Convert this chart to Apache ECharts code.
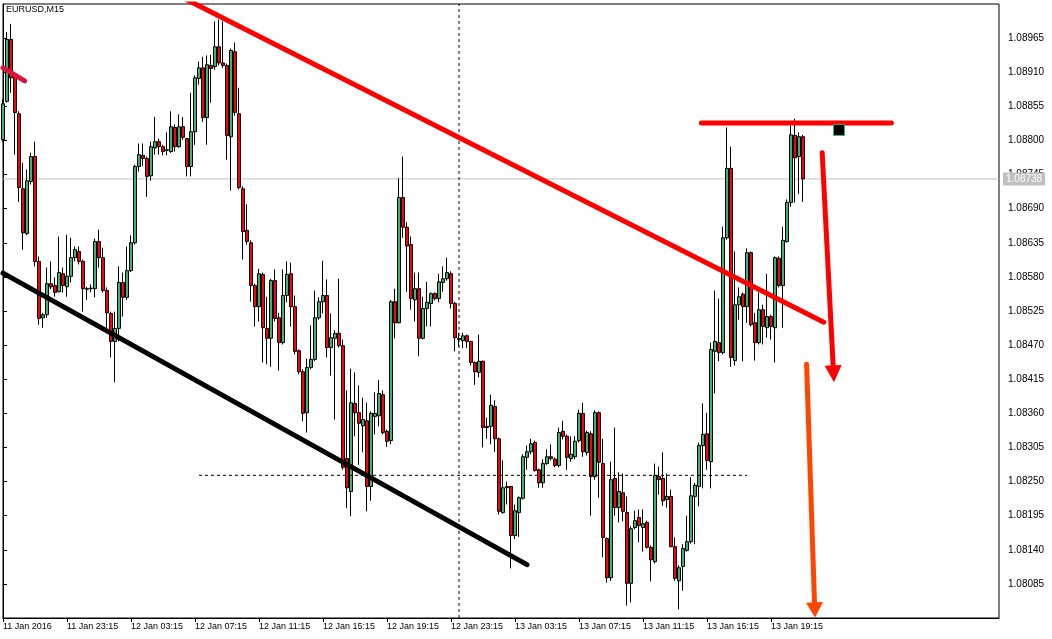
<!DOCTYPE html>
<html><head><meta charset="utf-8">
<script src="https://cdn.jsdelivr.net/npm/echarts@6/dist/echarts.min.js"></script>
<style>html,body{margin:0;padding:0;background:#fff}#chart{width:1052px;height:639px}</style>
</head><body><div id="chart"></div>
<script>
// ---- data ----
const title = 'EURUSD,M15';
const tickLabels = ['11 Jan 2016','11 Jan 23:15','12 Jan 03:15','12 Jan 07:15','12 Jan 11:15','12 Jan 15:15','12 Jan 19:15','12 Jan 23:15','13 Jan 03:15','13 Jan 07:15','13 Jan 11:15','13 Jan 15:15','13 Jan 19:15'];
const open = [1.08801,1.08863,1.08963,1.08903,1.08843,1.08722,1.08650,1.08734,1.08774,1.08605,
1.08514,1.08519,1.08569,1.08566,1.08556,1.08585,1.08564,1.08581,1.08611,1.08621,
1.08605,1.08561,1.08561,1.08561,1.08637,1.08611,1.08558,1.08521,1.08476,1.08497,
1.08571,1.08547,1.08590,1.08635,1.08758,1.08776,1.08771,1.08743,1.08788,1.08798,
1.08790,1.08784,1.08782,1.08821,1.08790,1.08822,1.08803,1.08758,1.08814,1.08900,
1.08917,1.08837,1.08921,1.08919,1.08951,1.08925,1.08921,1.08806,1.08943,1.08843,
1.08722,1.08655,1.08635,1.08566,1.08532,1.08584,1.08497,1.08481,1.08574,1.08514,
1.08474,1.08550,1.08585,1.08532,1.08461,1.08427,1.08361,1.08434,1.08447,1.08514,
1.08540,1.08550,1.08466,1.08481,1.08489,1.08469,1.08287,1.08234,1.08376,1.08361,
1.08340,1.08348,1.08242,1.08355,1.08356,1.08390,1.08331,1.08316,1.08540,1.08506,
1.08708,1.08660,1.08632,1.08543,1.08561,1.08481,1.08529,1.08537,1.08553,1.08545,
1.08571,1.08577,1.08585,1.08537,1.08481,1.08477,1.08485,1.08476,1.08442,1.08426,
1.08444,1.08337,1.08339,1.08371,1.08319,1.08200,1.08242,1.08242,1.08163,1.08200,
1.08223,1.08289,1.08298,1.08313,1.08269,1.08248,1.08279,1.08290,1.08286,1.08276,
1.08331,1.08323,1.08287,1.08290,1.08316,1.08360,1.08297,1.08327,1.08258,1.08361,
1.08279,1.08158,1.08095,1.08255,1.08208,1.08232,1.08200,1.08086,1.08176,1.08192,
1.08176,1.08184,1.08144,1.08121,1.08258,1.08255,1.08221,1.08226,1.08145,1.08090,
1.08113,1.08139,1.08153,1.08226,1.08242,1.08308,1.08327,1.08282,1.08460,1.08474,
1.08458,1.08643,1.08755,1.08445,1.08535,1.08552,1.08532,1.08619,1.08506,1.08474,
1.08527,1.08498,1.08516,1.08498,1.08610,1.08566,1.08637,1.08700,1.08808,1.08774,
1.08806];
const close = [1.08859,1.08963,1.08901,1.08845,1.08724,1.08651,1.08735,1.08774,1.08605,1.08513,
1.08519,1.08569,1.08564,1.08555,1.08587,1.08566,1.08581,1.08611,1.08624,1.08605,
1.08561,1.08560,1.08562,1.08637,1.08611,1.08558,1.08522,1.08476,1.08497,1.08571,
1.08547,1.08590,1.08635,1.08758,1.08777,1.08771,1.08742,1.08790,1.08798,1.08790,
1.08782,1.08785,1.08822,1.08790,1.08822,1.08805,1.08758,1.08814,1.08901,1.08917,
1.08837,1.08922,1.08916,1.08951,1.08925,1.08921,1.08808,1.08945,1.08845,1.08724,
1.08653,1.08637,1.08566,1.08532,1.08585,1.08498,1.08481,1.08574,1.08513,1.08474,
1.08550,1.08584,1.08532,1.08460,1.08427,1.08360,1.08434,1.08447,1.08514,1.08540,
1.08550,1.08466,1.08482,1.08489,1.08469,1.08273,1.08240,1.08377,1.08361,1.08344,
1.08350,1.08242,1.08360,1.08360,1.08392,1.08329,1.08315,1.08540,1.08506,1.08708,
1.08660,1.08630,1.08545,1.08561,1.08481,1.08529,1.08539,1.08553,1.08545,1.08572,
1.08577,1.08587,1.08537,1.08482,1.08479,1.08485,1.08476,1.08442,1.08427,1.08444,
1.08337,1.08339,1.08373,1.08319,1.08202,1.08240,1.08240,1.08163,1.08203,1.08224,
1.08290,1.08298,1.08311,1.08268,1.08248,1.08279,1.08290,1.08287,1.08276,1.08329,
1.08323,1.08289,1.08294,1.08315,1.08360,1.08298,1.08329,1.08258,1.08361,1.08281,
1.08160,1.08095,1.08253,1.08208,1.08234,1.08202,1.08086,1.08174,1.08187,1.08179,
1.08182,1.08144,1.08124,1.08260,1.08253,1.08219,1.08226,1.08145,1.08094,1.08111,
1.08142,1.08153,1.08227,1.08244,1.08308,1.08326,1.08284,1.08463,1.08476,1.08458,
1.08643,1.08755,1.08450,1.08535,1.08548,1.08532,1.08619,1.08503,1.08474,1.08527,
1.08500,1.08516,1.08500,1.08611,1.08566,1.08639,1.08700,1.08809,1.08772,1.08806,
1.08738];
const high = [1.08866,1.08975,1.08988,1.08906,1.08847,1.08764,1.08753,1.08780,1.08798,1.08613,
1.08522,1.08595,1.08605,1.08579,1.08645,1.08595,1.08648,1.08643,1.08629,1.08629,
1.08608,1.08564,1.08568,1.08642,1.08656,1.08627,1.08563,1.08524,1.08524,1.08597,
1.08587,1.08629,1.08647,1.08761,1.08795,1.08795,1.08774,1.08798,1.08838,1.08803,
1.08793,1.08813,1.08847,1.08826,1.08842,1.08838,1.08804,1.08877,1.08905,1.08927,
1.08935,1.08937,1.08938,1.08992,1.08995,1.08992,1.08924,1.08948,1.08958,1.08885,
1.08726,1.08697,1.08639,1.08569,1.08593,1.08587,1.08548,1.08577,1.08592,1.08522,
1.08592,1.08605,1.08603,1.08550,1.08463,1.08431,1.08448,1.08502,1.08558,1.08547,
1.08606,1.08576,1.08521,1.08494,1.08577,1.08479,1.08397,1.08432,1.08426,1.08405,
1.08385,1.08377,1.08363,1.08394,1.08414,1.08397,1.08334,1.08543,1.08561,1.08739,
1.08774,1.08668,1.08645,1.08587,1.08587,1.08548,1.08572,1.08555,1.08555,1.08585,
1.08597,1.08611,1.08589,1.08540,1.08490,1.08490,1.08487,1.08477,1.08444,1.08487,
1.08445,1.08353,1.08390,1.08381,1.08321,1.08284,1.08250,1.08243,1.08213,1.08226,
1.08294,1.08308,1.08319,1.08316,1.08271,1.08286,1.08302,1.08310,1.08289,1.08337,
1.08348,1.08326,1.08323,1.08323,1.08366,1.08377,1.08332,1.08331,1.08365,1.08363,
1.08319,1.08160,1.08282,1.08337,1.08265,1.08263,1.08226,1.08178,1.08203,1.08205,
1.08205,1.08187,1.08147,1.08279,1.08274,1.08297,1.08263,1.08237,1.08160,1.08115,
1.08149,1.08195,1.08257,1.08248,1.08313,1.08376,1.08361,1.08474,1.08558,1.08545,
1.08661,1.08821,1.08790,1.08621,1.08563,1.08555,1.08626,1.08621,1.08522,1.08555,
1.08535,1.08585,1.08519,1.08613,1.08613,1.08661,1.08705,1.08824,1.08835,1.08813,
1.08809];
const low = [1.08798,1.08861,1.08877,1.08777,1.08701,1.08624,1.08647,1.08729,1.08597,1.08503,
1.08498,1.08514,1.08560,1.08548,1.08555,1.08555,1.08548,1.08571,1.08605,1.08600,
1.08524,1.08543,1.08555,1.08547,1.08595,1.08555,1.08498,1.08450,1.08410,1.08476,
1.08516,1.08543,1.08588,1.08632,1.08750,1.08759,1.08709,1.08735,1.08777,1.08777,
1.08776,1.08776,1.08780,1.08782,1.08788,1.08801,1.08742,1.08742,1.08793,1.08890,
1.08830,1.08793,1.08861,1.08914,1.08921,1.08917,1.08769,1.08719,1.08840,1.08721,
1.08608,1.08632,1.08540,1.08500,1.08508,1.08442,1.08439,1.08435,1.08508,1.08429,
1.08471,1.08539,1.08500,1.08455,1.08423,1.08347,1.08329,1.08431,1.08444,1.08511,
1.08521,1.08450,1.08421,1.08350,1.08466,1.08269,1.08207,1.08194,1.08323,1.08277,
1.08297,1.08202,1.08219,1.08326,1.08339,1.08326,1.08306,1.08310,1.08481,1.08505,
1.08643,1.08556,1.08527,1.08508,1.08452,1.08479,1.08500,1.08500,1.08542,1.08539,
1.08556,1.08574,1.08529,1.08460,1.08468,1.08465,1.08465,1.08437,1.08406,1.08418,
1.08305,1.08319,1.08310,1.08298,1.08197,1.08198,1.08213,1.08110,1.08157,1.08161,
1.08221,1.08269,1.08294,1.08266,1.08240,1.08240,1.08277,1.08284,1.08273,1.08273,
1.08318,1.08269,1.08282,1.08286,1.08313,1.08290,1.08292,1.08195,1.08253,1.08224,
1.08128,1.08087,1.08090,1.08195,1.08184,1.08186,1.08050,1.08055,1.08173,1.08152,
1.08137,1.08142,1.08089,1.08118,1.08229,1.08211,1.08208,1.08144,1.08090,1.08044,
1.08074,1.08137,1.08150,1.08149,1.08210,1.08239,1.08269,1.08239,1.08392,1.08444,
1.08455,1.08640,1.08435,1.08437,1.08511,1.08444,1.08506,1.08500,1.08445,1.08471,
1.08471,1.08482,1.08479,1.08442,1.08563,1.08498,1.08635,1.08693,1.08700,1.08714,
1.08701];
const bidPrice = 1.08738;
// drawn objects, in [bar index, price]
const redTrend = [[45, 1.09030], [205.2, 1.08507]];
const blackTrend = [[0, 1.08586], [131, 1.08116]];
const crimsonLine = [[0, 1.08917], [5.4, 1.08896]];
const redLevel = [[174.6, 1.08828], [222.1, 1.08828]];
const squareMarker = [[209, 1.08817]];
const redArrow = [[204.8, 1.08780, 207.75, 1.08410]];
const orangeArrow = [[200.9, 1.08439, 203.0, 1.08031]];
const crossBar = 114.01;
const crossLevel = [[49, 1.08260], [186, 1.08260]];

// ---- build ----
const totalSlots = 250;
const months = ['Jan'];
const categories = [];
const t0 = Date.UTC(2016, 0, 11, 19, 15);
for (let i = 0; i < totalSlots; i++) {
  const d = new Date(t0 + i * 15 * 60000);
  const hh = String(d.getUTCHours()).padStart(2, '0');
  const mm = String(d.getUTCMinutes()).padStart(2, '0');
  categories.push(d.getUTCDate() + ' ' + months[d.getUTCMonth()] + ' ' + hh + ':' + mm);
}
const candleData = open.map((o, i) => [o, close[i], low[i], high[i]]);
const bidLine = [[0, bidPrice], [totalSlots - 1, bidPrice]];
const crossV = [[crossBar, 1.0803], [crossBar, 1.0902]];
const showTick = (idx) => idx % 16 === 0 && idx / 16 < tickLabels.length;
const FONT = 'Liberation Sans';

function arrowRenderer(color, shaftW, headLen, headHalf) {
  return function (params, api) {
    const p1 = api.coord([api.value(0), api.value(1)]);
    const p2 = api.coord([api.value(2), api.value(3)]);
    const dx = p2[0] - p1[0], dy = p2[1] - p1[1];
    const len = Math.hypot(dx, dy);
    const ux = dx / len, uy = dy / len;
    const bx = p2[0] - ux * headLen, by = p2[1] - uy * headLen;
    return {
      type: 'group',
      children: [
        { type: 'line', shape: { x1: p1[0], y1: p1[1], x2: bx, y2: by },
          style: { stroke: color, lineWidth: shaftW, lineCap: 'round' } },
        { type: 'polygon', shape: { points: [[p2[0], p2[1]], [bx - uy * headHalf, by + ux * headHalf], [bx + uy * headHalf, by - ux * headHalf]] },
          style: { fill: color } }
      ]
    };
  };
}
const lineSeries = (data, color, width, z, extra) => Object.assign({
  type: 'line', xAxisIndex: 1, yAxisIndex: 0, data: data, showSymbol: false, symbol: 'none',
  lineStyle: { color: color, width: width, cap: 'round' }, z: z, silent: true
}, extra || {});

const chart = echarts.init(document.getElementById('chart'), null, { renderer: 'canvas' });
chart.setOption({
  animation: false,
  backgroundColor: '#ffffff',
  title: { text: title, left: 6, top: 5, padding: 0,
    textStyle: { fontFamily: FONT, fontSize: 9, fontWeight: 'normal', color: '#000' } },
  grid: { left: 2, right: 53, top: 4, bottom: 21, show: true, borderColor: '#000', borderWidth: 1, backgroundColor: 'transparent' },
  xAxis: [{
    type: 'category', data: categories, boundaryGap: false, position: 'bottom',
    axisLine: { show: true, lineStyle: { color: '#000', width: 1 } },
    axisTick: { show: true, interval: (i) => showTick(i), length: 4, lineStyle: { color: '#000' } },
    axisLabel: { show: true, interval: (i) => showTick(i), formatter: (v, i) => tickLabels[i / 16] || '',
      align: 'left', margin: 4, fontFamily: FONT, fontSize: 9, color: '#000' },
    splitLine: { show: false }
  }, {
    type: 'value', min: 0, max: totalSlots - 1, show: false
  }],
  yAxis: [{
    type: 'value', position: 'right', min: 1.0803, max: 1.0902, interval: 0.00055,
    axisLine: { show: true, lineStyle: { color: '#000', width: 1 } },
    axisTick: { show: true, length: 4, lineStyle: { color: '#000' } },
    axisLabel: { show: true, margin: 9, fontFamily: FONT, fontSize: 10, color: '#000',
      showMinLabel: false, showMaxLabel: false, formatter: (v) => v.toFixed(5) },
    splitLine: { show: false }
  }],
  series: [
    lineSeries(bidLine, '#c0c0c0', 1, 1, {
      lineStyle: { color: '#c0c0c0', width: 1 },
      endLabel: { show: true, formatter: () => bidPrice.toFixed(5), distance: 4,
        backgroundColor: '#c0c0c0', color: '#ffffff', padding: [2, 3, 1, 3], fontFamily: FONT, fontSize: 10 }
    }),
    {
      type: 'candlestick', xAxisIndex: 0, yAxisIndex: 0, data: candleData, barWidth: 3,
      itemStyle: { color: '#3cb371', color0: '#ff0000', borderColor: '#000', borderColor0: '#000', borderColorDoji: '#000', borderWidth: 1 },
      z: 2
    },
    lineSeries(crossV, '#000', 1, 3, { lineStyle: { color: '#000', width: 1, type: [3, 3] } }),
    lineSeries(crossLevel, '#000', 1, 3, { lineStyle: { color: '#000', width: 1, type: [3, 3] } }),
    lineSeries(blackTrend, '#000', 5, 5),
    lineSeries(redTrend, '#ff0000', 5, 5),
    lineSeries(crimsonLine, '#dc143c', 5, 5),
    lineSeries(redLevel, '#ff0000', 5, 5),
    { type: 'scatter', xAxisIndex: 1, yAxisIndex: 0, data: squareMarker, symbol: 'rect', symbolSize: 11,
      itemStyle: { color: '#000', borderColor: '#3cb371', borderWidth: 1, opacity: 1 }, z: 6, silent: true },
    { type: 'custom', xAxisIndex: 1, yAxisIndex: 0, data: redArrow, renderItem: arrowRenderer('#ff0000', 5, 17, 8.5), z: 6, silent: true },
    { type: 'custom', xAxisIndex: 1, yAxisIndex: 0, data: orangeArrow, renderItem: arrowRenderer('#ff4500', 5, 15, 8.5), z: 6, silent: true }
  ]
});
</script></body></html>
